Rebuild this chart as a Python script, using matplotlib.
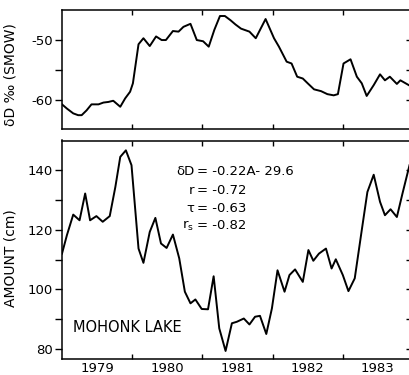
import numpy as np
import matplotlib.pyplot as plt

plt.rcParams['font.family'] = 'DejaVu Sans'
plt.rcParams['mathtext.default'] = 'regular'

# Mohonk Lake: monthly deuterium of precipitation and precipitation amount
t_dd = [1979.00, 1979.07, 1979.16, 1979.23, 1979.28, 1979.35, 1979.42, 1979.52,
        1979.59, 1979.66, 1979.73, 1979.78, 1979.83, 1979.90, 1979.97, 1980.01,
        1980.09, 1980.16, 1980.25, 1980.34, 1980.42, 1980.48, 1980.58, 1980.66,
        1980.73, 1980.83, 1980.92, 1981.01, 1981.09, 1981.17, 1981.25, 1981.32,
        1981.40, 1981.47, 1981.55, 1981.67, 1981.76, 1981.90, 1982.02, 1982.09,
        1982.20, 1982.27, 1982.35, 1982.43, 1982.50, 1982.59, 1982.69, 1982.78,
        1982.87, 1982.93, 1983.01, 1983.11, 1983.20, 1983.27, 1983.34, 1983.44,
        1983.53, 1983.60, 1983.67, 1983.77, 1983.82, 1983.94]
delta_d = [-60.7, -61.4, -62.2, -62.5, -62.5, -61.7, -60.7, -60.7,
           -60.4, -60.3, -60.1, -60.6, -61.1, -59.7, -58.6, -57.2,
           -50.7, -49.7, -51.0, -49.4, -50.0, -50.0, -48.5, -48.6,
           -47.8, -47.3, -50.0, -50.2, -51.1, -48.3, -46.0, -46.0,
           -46.7, -47.4, -48.1, -48.6, -49.7, -46.5, -49.7, -51.1,
           -53.6, -53.9, -56.1, -56.4, -57.2, -58.2, -58.5, -59.0,
           -59.2, -59.0, -53.9, -53.2, -56.1, -57.2, -59.3, -57.5,
           -55.7, -56.7, -56.1, -57.3, -56.7, -57.5]

t_amt = [1979.00, 1979.07, 1979.16, 1979.25, 1979.33, 1979.40, 1979.49, 1979.58,
         1979.68, 1979.76, 1979.83, 1979.91, 1979.99, 1980.09, 1980.16, 1980.25,
         1980.33, 1980.41, 1980.49, 1980.58, 1980.67, 1980.75, 1980.83, 1980.90,
         1980.99, 1981.08, 1981.16, 1981.24, 1981.33, 1981.42, 1981.49, 1981.59,
         1981.67, 1981.75, 1981.82, 1981.91, 1981.99, 1982.07, 1982.17, 1982.24,
         1982.32, 1982.43, 1982.51, 1982.58, 1982.66, 1982.76, 1982.84, 1982.90,
         1983.00, 1983.08, 1983.17, 1983.27, 1983.35, 1983.44, 1983.53, 1983.60,
         1983.68, 1983.77, 1983.85, 1983.95]
amount = [112.0, 118.2, 125.1, 123.2, 132.2, 123.2, 124.6, 122.7,
          124.6, 134.4, 144.5, 146.7, 141.7, 113.7, 108.9, 119.3,
          124.0, 115.4, 113.9, 118.4, 110.4, 99.2, 95.3, 96.6,
          93.4, 93.3, 104.4, 86.9, 79.3, 88.6, 89.1, 90.2,
          88.2, 90.8, 91.1, 85.0, 93.6, 106.4, 99.2, 104.8,
          106.7, 102.5, 113.2, 109.6, 112.0, 113.7, 107.0, 110.1,
          104.8, 99.4, 103.7, 119.9, 132.7, 138.5, 129.4, 124.9,
          126.9, 124.3, 132.2, 141.7]

years = [1979, 1980, 1981, 1982, 1983]
fit_lhs = ['δD', 'r', 'τ', 'r$_s$']
fit_rhs = ['= -0.22A- 29.6', '= -0.72', '= -0.63', '= -0.82']

W, H = 409, 375
fig = plt.figure(figsize=(W / 100, H / 100), dpi=100)
ax1 = fig.add_axes([62 / W, 1 - 129 / H, (410 - 62) / W, 119 / H])
ax2 = fig.add_axes([62 / W, 1 - 359 / H, (410 - 62) / W, 218.5 / H])

ax1.plot(t_dd, delta_d, color='black', lw=1.4)
ax2.plot(t_amt, amount, color='black', lw=1.4)

ax1.set_ylim(-64.8, -45)
ax1.set_yticks([-60, -55, -50])
ax1.set_yticklabels(['-60', '', '-50'])
ax2.set_ylim(76.6, 150)
ax2.set_yticks(np.arange(80, 150, 10))
ax2.set_yticklabels(['80', '', '100', '', '120', '', '140'])

for ax in (ax1, ax2):
    ax.set_xlim(1979.0, 1983.957)
    ax.set_xticks(years[1:])
    ax.set_xticklabels([])
    ax.set_xticks([y + 0.5 for y in years], minor=True)
    ax.tick_params(axis='x', which='major', direction='in', top=True,
                   length=3.5, width=1.0)
    ax.tick_params(axis='x', which='minor', length=0, pad=2, labelsize=9.5)
    ax.tick_params(axis='y', direction='out', length=5, width=1.0,
                   pad=1.5, labelsize=9.5)
    for s in ax.spines.values():
        s.set_linewidth(1.1)
    # inward ticks on the right-hand side
    sec = ax.secondary_yaxis('right')
    sec.set_yticks(ax.get_yticks())
    sec.set_yticklabels([])
    sec.tick_params(direction='in', length=3, width=1.0)

ax1.set_xticklabels([], minor=True)
ax2.set_xticklabels([str(y) for y in years], minor=True)

fig.text(11 / W, 1 - 75 / H, 'δD ‰ (SMOW)', rotation=90,
         ha='center', va='center', fontsize=10)
fig.text(11 / W, 1 - 258 / H, 'AMOUNT (cm)', rotation=90,
         ha='center', va='center', fontsize=10)

line_y = [0.856, 0.773, 0.691, 0.609]
for lhs, rhs, y in zip(fit_lhs, fit_rhs, line_y):
    ax2.text(0.38, y, lhs, transform=ax2.transAxes, ha='right',
             va='center', fontsize=9.5)
    ax2.text(0.387, y, rhs, transform=ax2.transAxes, ha='left',
             va='center', fontsize=9.5)

ax2.text(0.031, 0.142, 'MOHONK LAKE', transform=ax2.transAxes,
         ha='left', va='center', fontsize=10.5)

fig.savefig('out.png', dpi=100)
